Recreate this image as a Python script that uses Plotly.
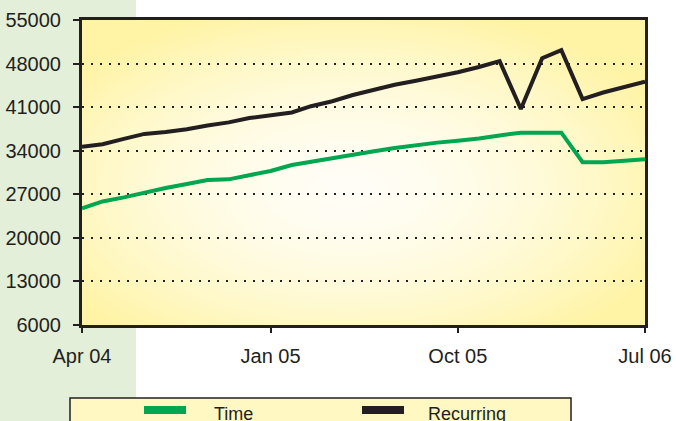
import base64
import struct
import zlib

import numpy as np
import pandas as pd
import plotly.graph_objects as go

# monthly figures, Apr 2004 - Jul 2006
months = pd.date_range("2004-04-01", periods=28, freq="MS")
recurring = [34650, 35050, 35900, 36700, 37000, 37450, 38050, 38550, 39250, 39750,
             40150, 41150, 41950, 42950, 43850, 44600, 45250, 45900, 46600, 47450,
             48400, 40700, 48850, 50150, 42300, 43350, 44250, 45100]
time_vals = [24750, 25850, 26500, 27300, 28000, 28650, 29300, 29400, 30100, 30750,
             31700, 32200, 32650, 33300, 33900, 34450, 34900, 35300, 35600, 35950,
             36450, 36900, 36900, 36900, 32150, 32150, 32400, 32650]
series_names = ["Time", "Recurring"]
y_ticks = [6000, 13000, 20000, 27000, 34000, 41000, 48000, 55000]

GREEN = "#00A650"
BLACK = "#231F20"

# plot box in pixels (676x421 canvas)
L, R, T, B = 82, 645, 20, 325


def px(x):
    return (x - L) / (R - L)


def py(y):
    return (B - y) / (B - T)


def gradient_png(w=220, h=120):
    # radial yellow -> near white, as a small png data uri
    xs = np.linspace(-1, 1, w)
    ys = np.linspace(-1, 1, h)
    xx, yy = np.meshgrid(xs, ys)
    d = np.clip(np.sqrt(((xx + 0.05) ** 2 + (yy - 0.1) ** 2) / 2) * 1.15, 0, 1)
    c0 = np.array([255, 254, 246], float)
    c1 = np.array([255, 244, 166], float)
    img = (c0 + (c1 - c0) * d[..., None] ** 1.7).astype(np.uint8)
    raw = b"".join(b"\x00" + img[i].tobytes() for i in range(h))

    def chunk(tag, data):
        c = struct.pack(">I", len(data)) + tag + data
        return c + struct.pack(">I", zlib.crc32(tag + data) & 0xFFFFFFFF)

    png = (b"\x89PNG\r\n\x1a\n"
           + chunk(b"IHDR", struct.pack(">IIBBBBB", w, h, 8, 2, 0, 0, 0))
           + chunk(b"IDAT", zlib.compress(raw, 9))
           + chunk(b"IEND", b""))
    return "data:image/png;base64," + base64.b64encode(png).decode()


fig = go.Figure()

fig.add_trace(go.Scatter(x=months, y=time_vals, mode="lines", name=series_names[0],
                         line=dict(color=GREEN, width=4), showlegend=False))
fig.add_trace(go.Scatter(x=months, y=recurring, mode="lines", name=series_names[1],
                         line=dict(color=BLACK, width=4), showlegend=False))

strip = "#E3EFD9"
shapes = [
    # green side strip, kept out of the plot box
    dict(type="rect", xref="paper", yref="paper", x0=px(-5), x1=px(L), y0=py(430), y1=py(-5),
         fillcolor=strip, line_width=0, layer="below"),
    dict(type="rect", xref="paper", yref="paper", x0=px(L), x1=px(136), y0=py(T), y1=py(-5),
         fillcolor=strip, line_width=0, layer="below"),
    dict(type="rect", xref="paper", yref="paper", x0=px(L), x1=px(136), y0=py(430), y1=py(B),
         fillcolor=strip, line_width=0, layer="below"),
    # legend box
    dict(type="rect", xref="paper", yref="paper", x0=px(70), x1=px(571), y0=py(440), y1=py(398),
         fillcolor="#FFF8C2", line=dict(color=BLACK, width=1.5)),
    dict(type="rect", xref="paper", yref="paper", x0=px(144), x1=px(186), y0=py(414), y1=py(406),
         fillcolor=GREEN, line_width=0),
    dict(type="rect", xref="paper", yref="paper", x0=px(362), x1=px(404), y0=py(414), y1=py(406),
         fillcolor=BLACK, line_width=0),
]

annotations = [
    dict(text=series_names[0], xref="paper", yref="paper", x=px(212), y=py(414),
         xanchor="left", yanchor="middle", showarrow=False,
         font=dict(size=18, color=BLACK)),
    dict(text=series_names[1], xref="paper", yref="paper", x=px(426), y=py(414),
         xanchor="left", yanchor="middle", showarrow=False,
         font=dict(size=18, color=BLACK)),
]

fig.update_layout(
    width=676, height=421,
    margin=dict(l=L, r=676 - R, t=T, b=421 - B),
    paper_bgcolor="white",
    plot_bgcolor="#FFF6B8",
    font=dict(family="Liberation Sans, Arial, sans-serif", color=BLACK),
    shapes=shapes,
    annotations=annotations,
    images=[dict(source=gradient_png(), xref="x domain", yref="y domain",
                 x=0, y=1, sizex=1, sizey=1, sizing="stretch",
                 xanchor="left", yanchor="top", layer="below")],
    xaxis=dict(
        range=[months[0], months[-1]],
        tick0=months[0], dtick="M9", tickformat="%b %y",
        ticks="outside", ticklen=5, tickwidth=2, tickcolor=BLACK,
        ticklabelstandoff=6, automargin=False,
        showline=True, linecolor=BLACK, linewidth=3, mirror=True,
        showgrid=False, zeroline=False,
        tickfont=dict(size=20, color=BLACK),
    ),
    yaxis=dict(
        range=[y_ticks[0], y_ticks[-1]],
        tickvals=y_ticks, tickformat="d",
        ticks="outside", ticklen=6, tickwidth=2, tickcolor=BLACK,
        ticklabelstandoff=8, automargin=False,
        showline=True, linecolor=BLACK, linewidth=3, mirror=True,
        showgrid=True, gridcolor=BLACK, gridwidth=2, griddash="2px,7px",
        zeroline=False,
        tickfont=dict(size=20, color=BLACK),
    ),
)

fig.write_html("out.html", config={"displayModeBar": False},
               post_script="document.body.style.margin='0';")
